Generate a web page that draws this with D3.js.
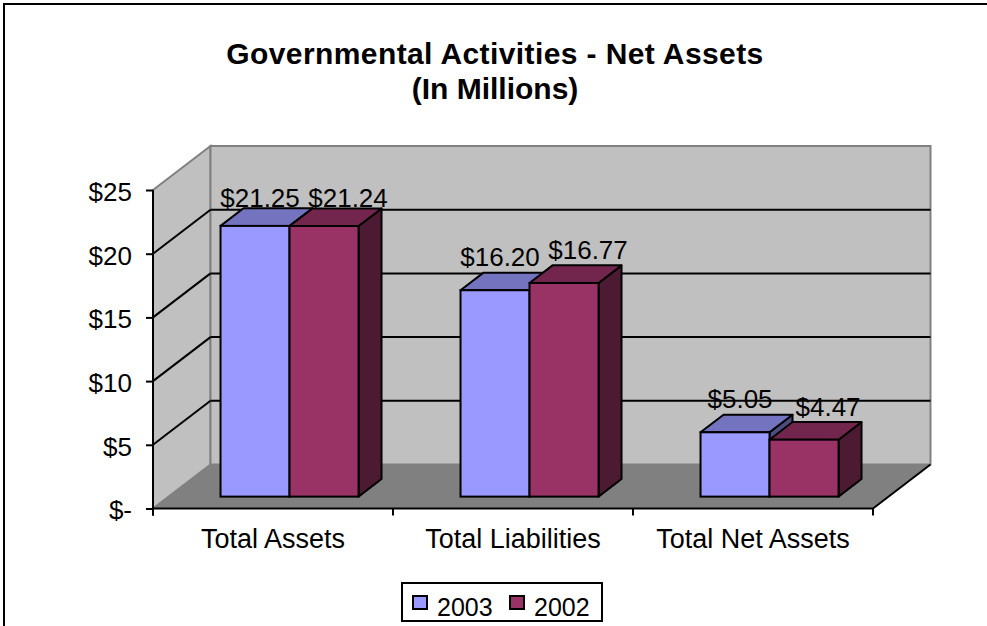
<!DOCTYPE html>
<html>
<head>
<meta charset="utf-8">
<script src="https://cdn.jsdelivr.net/npm/d3@7"></script>
<style>
  html, body { margin: 0; padding: 0; background: #fff; overflow: hidden; }
  svg { display: block; }
  text { font-family: "Liberation Sans", Arial, sans-serif; fill: #000; }
</style>
</head>
<body>
<svg id="chart" width="987" height="626"></svg>
<script>
// ---- data ----
const titleLines = ["Governmental Activities - Net Assets", "(In Millions)"];
const categories = ["Total Assets", "Total Liabilities", "Total Net Assets"];
const seriesNames = ["2003", "2002"];
const values2003 = [21.25, 16.20, 5.05];
const values2002 = [21.24, 16.77, 4.47];
const tickValues = [0, 5, 10, 15, 20, 25];
const tickLabels = ["$-", "$5", "$10", "$15", "$20", "$25"];
const seriesColors = ["#9999FF", "#993366"];

// ---- layout ----
const svg = d3.select("#chart");
const DX = 57.5, DY = -44;          // depth vector of the 3-D box
const zFront = 0.27, zBack = 0.67;  // bar depth inside the box

const y = d3.scaleLinear().domain([0, 25]).range([508.5, 190]);
const x = d3.scaleBand().domain(categories).range([153, 873]);
const xInner = d3.scaleBand().domain(seriesNames).range([52, 190]);
const shade = (c, k) => { const r = d3.rgb(c); return d3.rgb(r.r * k, r.g * k, r.b * k).formatHex(); };
const pt = (px, py, z) => [px + z * DX, py + z * DY];
const poly = pts => "M" + pts.map(p => p.join(",")).join("L") + "Z";

// outer frame (left and top edges fall inside the canvas)
svg.append("path").attr("d", "M4,700V4H1000")
  .attr("fill", "none").attr("stroke", "#000").attr("stroke-width", 2);

// title
svg.append("g").selectAll("text").data(titleLines).join("text")
  .attr("x", 495).attr("y", (d, i) => 64 + i * 35)
  .attr("text-anchor", "middle").attr("font-size", 30).attr("font-weight", "bold")
  .attr("letter-spacing", (d, i) => i === 0 ? 0.4 : 0)
  .text(d => d);

const x0 = x.range()[0], x1 = x.range()[1];
const y0 = y(0), yTop = y(25);

// walls and floor
const g = svg.append("g");
g.append("path").attr("d", poly([pt(x0, yTop, 0), pt(x0, yTop, 1), pt(x0, y0, 1), pt(x0, y0, 0)]))
  .attr("fill", "#C0C0C0").attr("stroke", "#808080").attr("stroke-width", 2);
g.append("path").attr("d", poly([pt(x0, yTop, 1), pt(x1, yTop, 1), pt(x1, y0, 1), pt(x0, y0, 1)]))
  .attr("fill", "#C0C0C0").attr("stroke", "#808080").attr("stroke-width", 2);
g.append("path").attr("d", poly([pt(x0, y0, 0), pt(x0, y0, 1), pt(x1, y0, 1), pt(x1, y0, 0)]))
  .attr("fill", "#808080").attr("stroke", "none");

// gridlines on the side wall and back wall
const grid = tickValues.filter(v => v > 0 && v < 25);
g.selectAll(".gside").data(grid).join("line")
  .attr("x1", x0).attr("y1", d => y(d)).attr("x2", x0 + DX).attr("y2", d => y(d) + DY)
  .attr("stroke", "#000").attr("stroke-width", 2);
g.selectAll(".gback").data(grid).join("line")
  .attr("x1", x0 + DX).attr("y1", d => y(d) + DY).attr("x2", x1 + DX).attr("y2", d => y(d) + DY)
  .attr("stroke", "#000").attr("stroke-width", 2);

// floor edges
g.append("line").attr("x1", x1).attr("y1", y0).attr("x2", x1 + DX).attr("y2", y0 + DY)
  .attr("stroke", "#000").attr("stroke-width", 2);

// bars
const series = [values2003, values2002];
const bars = [];
categories.forEach((c, ci) => {
  seriesNames.forEach((s, si) => {
    bars.push({ cat: c, series: s, si, value: series[si][ci] });
  });
});
const barG = svg.append("g");
const dd = zBack - zFront;
bars.forEach(b => {
  const bw = xInner.bandwidth();
  const [fx, fyTop] = pt(x(b.cat) + xInner(b.series), y(b.value), zFront);
  const fyBot = y(0) + zFront * DY;
  const col = seriesColors[b.si];
  const gb = barG.append("g");
  gb.append("path").attr("d", poly([[fx + bw, fyTop], [fx + bw + dd * DX, fyTop + dd * DY],
      [fx + bw + dd * DX, fyBot + dd * DY], [fx + bw, fyBot]]))
    .attr("fill", shade(col, 0.5)).attr("stroke", "#000").attr("stroke-width", 2).attr("stroke-linejoin", "round");
  gb.append("path").attr("d", poly([[fx, fyTop], [fx + bw, fyTop], [fx + bw + dd * DX, fyTop + dd * DY],
      [fx + dd * DX, fyTop + dd * DY]]))
    .attr("fill", shade(col, 0.75)).attr("stroke", "#000").attr("stroke-width", 2).attr("stroke-linejoin", "round");
  gb.append("rect").attr("x", fx).attr("y", fyTop).attr("width", bw).attr("height", fyBot - fyTop)
    .attr("fill", col).attr("stroke", "#000").attr("stroke-width", 2);
  b.fx = fx; b.fyTop = fyTop; b.bw = bw;
});

// value labels
const fmt = d3.format("$.2f");
const labelShift = [5, 24];
svg.append("g").selectAll("text").data(bars).join("text")
  .attr("x", b => b.fx + b.bw / 2 + labelShift[b.si])
  .attr("y", b => Math.max(b.fyTop - 24, yTop + 17))
  .attr("text-anchor", "middle").attr("font-size", 26)
  .text(b => fmt(b.value));

// value axis
const yAxis = d3.axisLeft(y).tickValues(tickValues)
  .tickFormat((d, i) => tickLabels[i]).tickSize(7).tickSizeOuter(0).tickPadding(14);
const ya = svg.append("g").attr("transform", `translate(${x0},0)`).call(yAxis);
ya.select(".domain").remove();
ya.selectAll(".tick line").attr("stroke", "#000").attr("stroke-width", 2);
ya.selectAll(".tick text").attr("font-size", 26).attr("dy", "0.4em")
  .attr("font-family", '"Liberation Sans", Arial, sans-serif').attr("fill", "#000");
svg.append("line").attr("x1", x0).attr("y1", yTop).attr("x2", x0).attr("y2", y0 + 7)
  .attr("stroke", "#000").attr("stroke-width", 2);

// category axis
svg.append("line").attr("x1", x0).attr("y1", y0).attr("x2", x1).attr("y2", y0)
  .attr("stroke", "#000").attr("stroke-width", 2);
const bounds = categories.map(c => x(c)).concat([x1]);
svg.append("g").selectAll("line").data(bounds).join("line")
  .attr("x1", d => d).attr("x2", d => d).attr("y1", y0).attr("y2", y0 + 7)
  .attr("stroke", "#000").attr("stroke-width", 2);
svg.append("g").selectAll("text").data(categories).join("text")
  .attr("x", c => x(c) + x.bandwidth() / 2).attr("y", 548)
  .attr("text-anchor", "middle").attr("font-size", 27)
  .text(c => c);

// legend
const lg = svg.append("g");
lg.append("rect").attr("x", 402).attr("y", 583).attr("width", 200).attr("height", 38)
  .attr("fill", "#fff").attr("stroke", "#000").attr("stroke-width", 2);
const legendX = [413, 510];
seriesNames.forEach((s, i) => {
  lg.append("rect").attr("x", legendX[i]).attr("y", 596).attr("width", 14).attr("height", 13)
    .attr("fill", seriesColors[i]).attr("stroke", "#000").attr("stroke-width", 2);
  lg.append("text").attr("x", legendX[i] + 24).attr("y", 616).attr("font-size", 25).text(s);
});
</script>
</body>
</html>
